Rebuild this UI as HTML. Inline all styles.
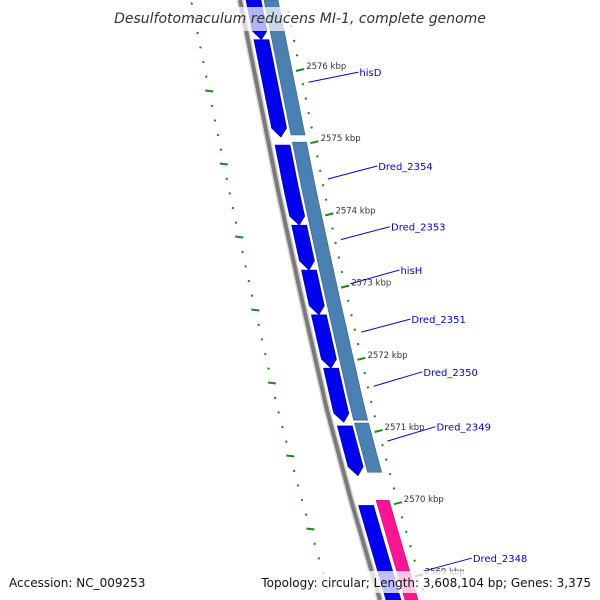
<!DOCTYPE html>
<html><head><meta charset="utf-8"><style>
html,body{margin:0;padding:0;background:#fff;width:600px;height:600px;overflow:hidden}
svg{display:block;overflow:hidden}
text{font-family:"DejaVu Sans","Liberation Sans",sans-serif}
</style></head><body>
<svg id="map" width="600" height="600" viewBox="0 0 600 600"></svg>
<script>
// data (kbp positions)
const blueGenes = [[2577.1,2576.42],[2576.42,2575.07],[2574.96,2573.85],[2573.85,2573.23],[2573.23,2572.61],[2572.61,2571.87],[2571.87,2571.12],[2571.07,2570.38]];
const blueNoArrow = [[2569.97,2568.4]];
const steelGenes = [[2577.1,2575.1],[2575.0,2571.15],[2571.11,2570.43]];
const pinkGenes = [[2570.04,2568.4]];
const tickKbp = [2576,2575,2574,2573,2572,2571,2570,2569];
const geneLabels = ["hisD","Dred_2354","Dred_2353","hisH","Dred_2351","Dred_2350","Dred_2349","Dred_2348"];
const labelKbp = [2575.97,2574.67,2573.83,2573.23,2572.55,2571.82,2571.06,2569.24];
const labelAnchorKbp = [2575.83,2574.49,2573.65,2573.04,2572.37,2571.62,2570.86,2569.06];

const NS="http://www.w3.org/2000/svg";
const svg=document.getElementById('map');
function yOf(k){return 70+(2576-k)*72.2;}
const curveY=[-20,0,100,190,300,410,500,600,620];
const curveX=[236,240,260,278,302,327,351,380,386];
function gx(y){
  for(let i=0;i<curveY.length-1;i++){
    if(y<=curveY[i+1]||i===curveY.length-2){const t=(y-curveY[i])/(curveY[i+1]-curveY[i]);return curveX[i]+t*(curveX[i+1]-curveX[i]);}
  }
}
function mk(tag,attrs,parent){const e=document.createElementNS(NS,tag);for(const a in attrs)e.setAttribute(a,attrs[a]);(parent||svg).appendChild(e);return e;}
function band(y1,y2,o1,o2,arrow){
  y1=Math.max(0,y1); if(y2>600){y2=600;arrow=false;}
  const pts=[];const n=12;
  const yEnd=arrow?y2-9:y2;
  for(let i=0;i<=n;i++){const y=y1+(yEnd-y1)*i/n;pts.push([gx(y)+o1,y]);}
  if(arrow){pts.push([gx(y2)+(o1+o2)/2,y2]);}
  for(let i=n;i>=0;i--){const y=y1+(yEnd-y1)*i/n;pts.push([gx(y)+o2,y]);}
  return pts.map(p=>p[0].toFixed(1)+','+p[1].toFixed(1)).join(' ');
}
// inner dotted ring
for(let i=1;i<42;i++){
  const y=-11.2+14.6*i;
  if(y>598)break;
  const major=(i%5===2);
  const x=gx(y)-49;
  const d=mk('line',{x1:x-(major?4:1),y1:y+(major?-0.5:0),x2:x+(major?4:1),y2:y+(major?0.5:0.5),stroke:'#1a8a1a','stroke-width':2});
  
  
}
// backbone
const bb=[];for(let y=0;y<=600;y+=10)bb.push(gx(y).toFixed(1)+','+y);
mk('polyline',{points:bb.join(' '),fill:'none',stroke:'#d8d8d8','stroke-width':7,});
mk('polyline',{points:bb.join(' '),fill:'none',stroke:'#7a7a7a','stroke-width':4,});
// genes
blueGenes.forEach(g=>{
  const p=mk('polygon',{points:band(yOf(g[0]),yOf(g[1]),6,21,true),fill:'#0000f0',stroke:'#0000a8','stroke-width':0.6});
  
  
});
blueNoArrow.forEach(g=>{
  const p=mk('polygon',{points:band(yOf(g[0]),yOf(g[1]),6,21,false),fill:'#0000f0',stroke:'#0000a8','stroke-width':0.6});
  
  
});
steelGenes.forEach(g=>{
  const p=mk('polygon',{points:band(yOf(g[0]),yOf(g[1]),24,38,false),fill:'#4a80b2',stroke:'#2f5f8a','stroke-width':0.6});
  
  
});
pinkGenes.forEach(g=>{
  const p=mk('polygon',{points:band(yOf(g[0]),yOf(g[1]),25,38,false),fill:'#ff1493',stroke:'#c0106e','stroke-width':0.6});
  
  
});
// outer ticks
for(let i=0;i<=44;i++){
  const k=2577-i*0.2;
  const y=yOf(k);
  if(y<2||y>597)continue;
  const major=(i%5===0);
  const x=gx(y)+46;
  const t=mk('line',{x1:x-(major?4:1),y1:y+(major?1:0),x2:x+(major?4:1),y2:y-(major?1:0.5),stroke:'#1a8a1a','stroke-width':2});
  
  
}
tickKbp.forEach(k=>{
  const y=yOf(k)-4;
  const t=mk('text',{x:gx(y)+53,y:y+3,'font-size':8.5,fill:'#333'});
  t.textContent=k+' kbp';
  
  
});
// labels
geneLabels.forEach((lab,i)=>{
  const ya=yOf(labelAnchorKbp[i]);const yl=yOf(labelKbp[i]);
  const xa=gx(ya)+52;
  const lx=gx(yl)+105;
  const l=mk('line',{x1:xa,y1:ya,x2:lx-1,y2:yl,stroke:'#0000ee','stroke-width':1});
  
  
  const t=mk('text',{x:lx,y:yl+4,'font-size':10,fill:'#0000ee'});
  t.textContent=lab;
  
  
});
// title and footer
mk('rect',{x:115,y:7,width:370,height:24,fill:'#fff','fill-opacity':0.7,});
const ti=mk('text',{x:300,y:23,'text-anchor':'middle','font-size':14,'font-style':'italic',fill:'#333',});
ti.textContent='Desulfotomaculum reducens MI-1, complete genome';
mk('rect',{x:255,y:571,width:340,height:22,fill:'#fff','fill-opacity':0.75,});
const a=mk('text',{x:9,y:587,'font-size':12,fill:'#111',});
a.textContent='Accession: NC_009253';
const b=mk('text',{x:591,y:587,'text-anchor':'end','font-size':12,fill:'#111',});
b.textContent='Topology: circular; Length: 3,608,104 bp; Genes: 3,375';
</script>
</body></html>
